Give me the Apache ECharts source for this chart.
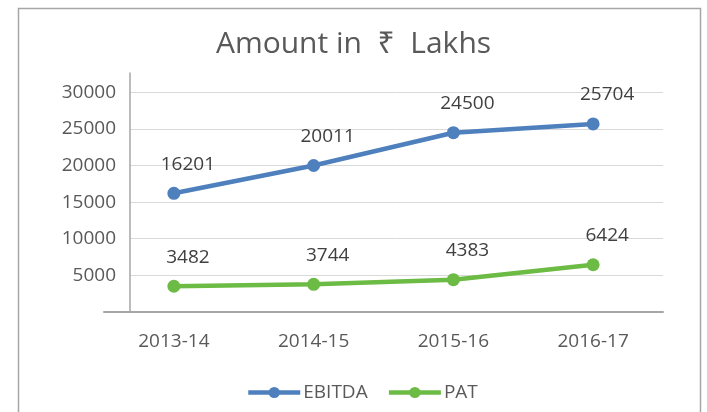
<!DOCTYPE html>
<html>
<head>
<meta charset="utf-8">
<script src="https://cdn.jsdelivr.net/npm/echarts@6/dist/echarts.min.js"></script>
<style>
  html, body { margin: 0; padding: 0; background: #fff; }
  #chart { width: 707px; height: 412px; }
</style>
</head>
<body>
<div id="chart"></div>
<script>
// chart data
const years = ['2013-14', '2014-15', '2015-16', '2016-17'];
const ebitda = [16201, 20011, 24500, 25704];
const pat = [3482, 3744, 4383, 6424];
const yMax = 32670; // axis runs a little past the last 30000 label

const font = "'Open Sans', 'Noto Sans', 'DejaVu Sans', sans-serif";
const textColor = '#595959';

const chart = echarts.init(document.getElementById('chart'));

function lineSeries(name, data, color) {
  return {
    name: name,
    type: 'line',
    xAxisIndex: 0,
    yAxisIndex: 0,
    data: data,
    symbol: 'circle',
    symbolSize: 13,
    lineStyle: { color: color, width: 4.5 },
    itemStyle: { color: color },
    label: {
      show: true,
      position: 'top',
      distance: 13,
      offset: [14, 0],
      color: '#404040',
      fontSize: 19,
      fontFamily: font
    }
  };
}

const option = {
  animation: false,
  title: {
    text: 'Amount in  ₹  Lakhs',
    left: 'center',
    top: 24,
    textStyle: { color: textColor, fontSize: 30, fontWeight: 'normal', fontFamily: font }
  },
  legend: {
    left: 241,
    top: 378,
    itemWidth: 52,
    itemHeight: 14,
    itemGap: 19,
    lineStyle: { width: 4.5 },
    textStyle: { color: textColor, fontSize: 19, fontFamily: font, padding: [0, 0, 0, -2] }
  },
  graphic: [{
    type: 'rect',
    shape: { x: 18.5, y: 8.5, width: 682, height: 430 },
    style: { fill: 'none', stroke: '#a6a6a6', lineWidth: 1.5 },
    silent: true
  }],
  grid: [
    { left: 104, right: 44, top: 73, bottom: 100.3 },
    { left: 130, right: 44, top: 73, bottom: 100.3 }
  ],
  xAxis: [
    {
      gridIndex: 0,
      type: 'category',
      data: years,
      boundaryGap: true,
      axisLine: { lineStyle: { color: '#a6a6a6', width: 2 } },
      axisTick: { show: false },
      axisLabel: { color: textColor, fontSize: 19, fontFamily: font, margin: 20 }
    },
    { gridIndex: 1, type: 'value', show: false }
  ],
  yAxis: [
    { gridIndex: 0, type: 'value', min: 0, max: yMax, show: false },
    {
      gridIndex: 1,
      type: 'value',
      min: 0,
      max: yMax,
      interval: 5000,
      axisLine: { show: true, lineStyle: { color: '#a6a6a6', width: 1.5 } },
      axisTick: { show: false },
      axisLabel: {
        color: textColor,
        fontSize: 19,
        fontFamily: font,
        margin: 14,
        formatter: function (v) {
          return (v > 0 && v % 5000 === 0) ? String(v) : '';
        }
      },
      splitLine: {
        show: true,
        showMinLine: false,
        showMaxLine: false,
        lineStyle: { color: '#d9d9d9', width: 1 }
      }
    }
  ],
  series: [
    lineSeries('EBITDA', ebitda, '#4e80bd'),
    lineSeries('PAT', pat, '#6cbb45')
  ]
};

chart.setOption(option);
</script>
</body>
</html>
